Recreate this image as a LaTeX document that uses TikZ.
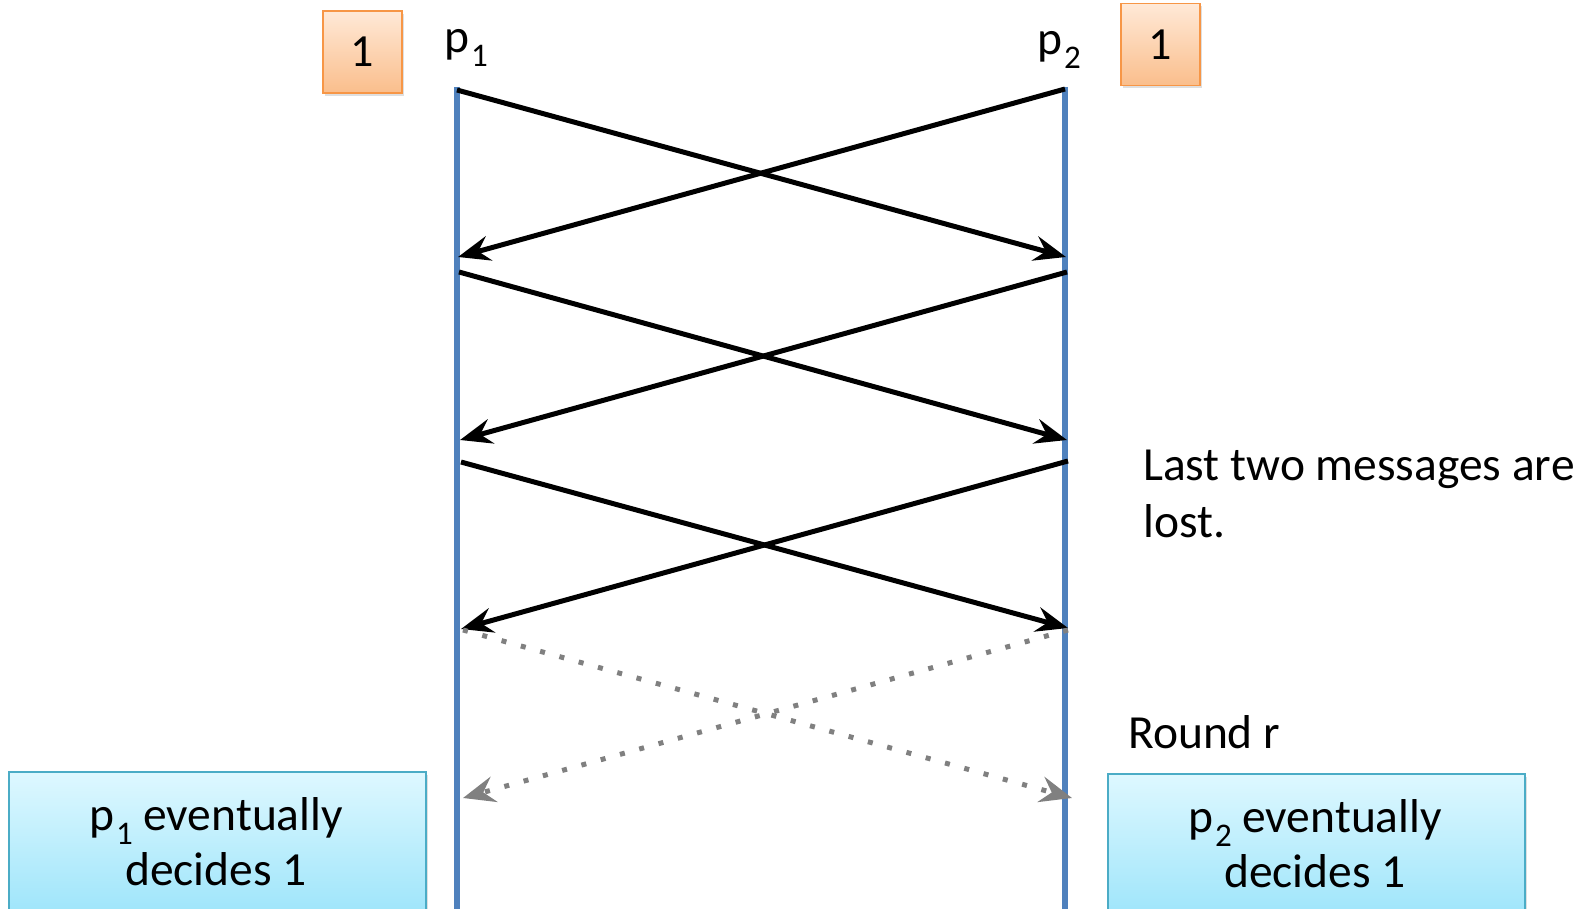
\documentclass[tikz,border=0pt]{standalone}
\usepackage{fontspec}
\setmainfont{Carlito}
\usetikzlibrary{arrows.meta,shadows}
\definecolor{lifeblue}{RGB}{79,129,189}
\definecolor{orangeborder}{RGB}{247,150,70}
\definecolor{orangetop}{RGB}{255,233,215}
\definecolor{orangebot}{RGB}{250,190,140}
\definecolor{cyanborder}{RGB}{75,172,198}
\definecolor{cyantop}{RGB}{222,248,255}
\definecolor{cyanbot}{RGB}{155,228,250}
\definecolor{lostgray}{RGB}{128,128,128}
\newcommand{\subnum}[1]{\kern2pt\raisebox{-14pt}{\fontsize{33}{33}\selectfont #1}}
\tikzset{
  txt/.style={font=\fontsize{47.5}{57}\selectfont, inner sep=0pt},
  valbox/.style={draw=orangeborder, line width=1.5pt, top color=orangetop, bottom color=orangebot,
     minimum width=79pt, minimum height=82pt, inner sep=0pt, font=\fontsize{46}{50}\selectfont,
     drop shadow={shadow xshift=2pt, shadow yshift=-3pt, opacity=0.25}},
  decbox/.style={draw=cyanborder, line width=1.5pt, top color=cyantop, bottom color=cyanbot,
     minimum width=417pt, minimum height=150pt, inner sep=0pt, anchor=north west,
     drop shadow={shadow xshift=2pt, shadow yshift=-3pt, opacity=0.25}},
  life/.style={draw=lifeblue, line width=5.5pt},
  msg/.style={draw=black, line width=5pt, -{Stealth[length=32pt,width=25pt,inset=11pt]}},
  lost/.style={draw=lostgray, line width=5pt, dash pattern=on 5pt off 15pt,
     -{Stealth[length=32pt,width=26pt,inset=11pt]}},
}
\begin{document}
\begin{tikzpicture}[x=1pt,y=-1pt]
\useasboundingbox (0,0) rectangle (1593,909);
% lifelines
\coordinate (L0) at (457,87);
\coordinate (Lend) at (457,915);
\coordinate (R0) at (1065,87);
\coordinate (Rend) at (1065,915);
\draw[life] (L0) -- (Lend);
\draw[life] (R0) -- (Rend);
% message endpoints
\coordinate (l1s) at (457,90);  \coordinate (r1e) at (1066,257);
\coordinate (r1s) at (1065,89); \coordinate (l1e) at (458,257);
\coordinate (l2s) at (459,272); \coordinate (r2e) at (1067,440);
\coordinate (r2s) at (1067,272);\coordinate (l2e) at (460,440);
\coordinate (l3s) at (461,462); \coordinate (r3e) at (1068,628);
\coordinate (r3s) at (1068,461);\coordinate (l3e) at (461,629);
\coordinate (l4s) at (463,630); \coordinate (r4e) at (1072,798);
\coordinate (r4s) at (1068,630);\coordinate (l4e) at (463,798);
\draw[msg] (l1s) -- (r1e);
\draw[msg] (r1s) -- (l1e);
\draw[msg] (l2s) -- (r2e);
\draw[msg] (r2s) -- (l2e);
\draw[msg] (l3s) -- (r3e);
\draw[msg] (r3s) -- (l3e);
\draw[lost] (l4s) -- (r4e);
\draw[lost] (r4s) -- (l4e);
% process labels and values
\node[txt, anchor=base west] (p1) at (444,53) {p\subnum{1}};
\node[txt, anchor=base west] (p2) at (1037,55) {p\subnum{2}};
\node[valbox] (v1) at (362.5,52) {1};
\node[valbox] (v2) at (1160.5,44.5) {1};
% annotations
\node[txt, anchor=base west] (lost1) at (1143,480) {Last two messages are};
\node[txt, anchor=base west] (lost2) at (1143,537) {lost.};
\node[txt, anchor=base west] (round) at (1128,748) {Round r};
% decision boxes
\node[decbox] (d1) at (8,771) {};
\node[decbox] (d2) at (1107,773) {};
\node[txt, anchor=base] (d1a) at (216,830) {p\subnum{1} eventually};
\node[txt, anchor=base] (d1b) at (216,885) {decides 1};
\node[txt, anchor=base] (d2a) at (1315,832) {p\subnum{2} eventually};
\node[txt, anchor=base] (d2b) at (1315,887) {decides 1};
\end{tikzpicture}
\end{document}
